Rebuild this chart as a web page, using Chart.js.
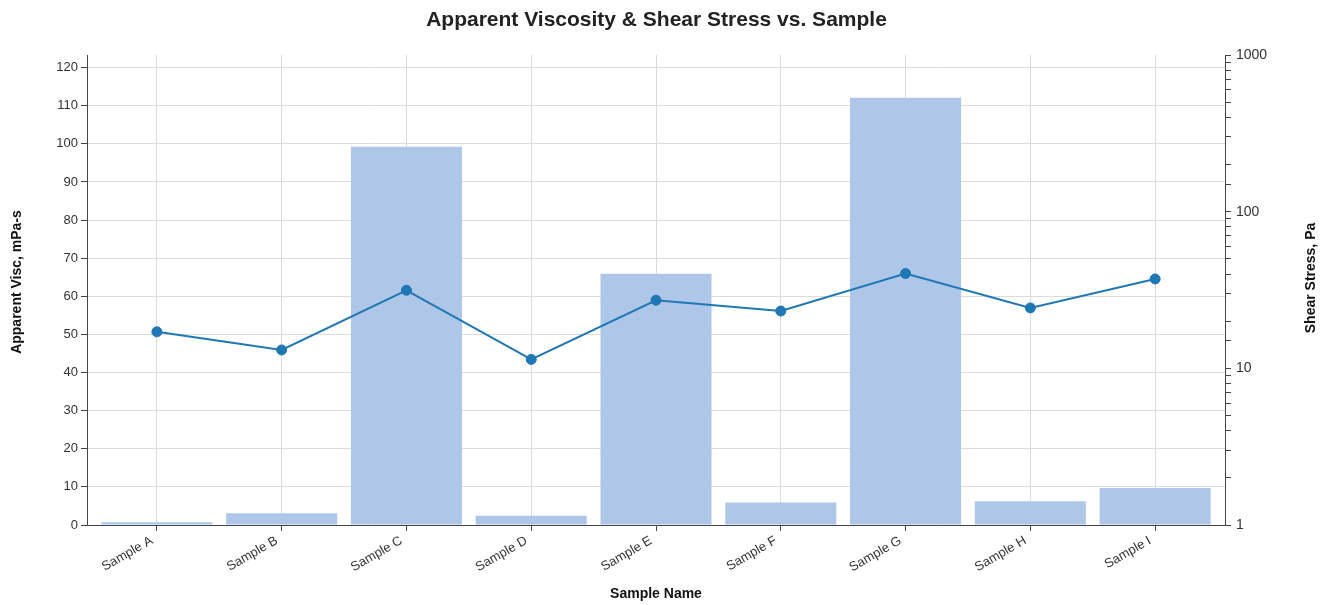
<!DOCTYPE html>
<html>
<head>
<meta charset="utf-8">
<script src="https://cdn.jsdelivr.net/npm/chart.js@4"></script>
<style>
  body { margin: 0; background: #fff; }
</style>
</head>
<body>
<canvas id="myChart" width="1325" height="605"></canvas>
<script>
var ctx = document.getElementById('myChart').getContext('2d');

var samples = ['Sample A', 'Sample B', 'Sample C', 'Sample D', 'Sample E', 'Sample F', 'Sample G', 'Sample H', 'Sample I'];
var apparentVisc = [0.7, 3.1, 99.2, 2.4, 65.9, 5.9, 112.1, 6.2, 9.7];
var shearStress = [17.1, 13.1, 31.5, 11.4, 27.2, 23.2, 40.3, 24.3, 37.2];

var viscTicks = [0, 10, 20, 30, 40, 50, 60, 70, 80, 90, 100, 110, 120];
var stressLabels = [1, 10, 100, 1000];

Chart.defaults.font.family = '"Liberation Sans", Arial, sans-serif';
Chart.defaults.font.size = 13;
Chart.defaults.color = '#333';

var axisColor = '#444';
var gridColor = '#dcdcdc';

// side titles drawn by hand so both read bottom-to-top
var sideTitles = {
    id: 'sideTitles',
    afterDraw: function (chart) {
        var c = chart.ctx;
        c.save();
        c.font = 'bold 14px "Liberation Sans", Arial, sans-serif';
        c.fillStyle = '#111';
        c.textAlign = 'center';
        c.textBaseline = 'middle';
        [[17, 282, 'Apparent Visc, mPa-s'], [1311, 278, 'Shear Stress, Pa']].forEach(function (t) {
            c.save();
            c.translate(t[0], t[1]);
            c.rotate(-Math.PI / 2);
            c.fillText(t[2], 0, 0);
            c.restore();
        });
        c.restore();
    }
};

var myChart = new Chart(ctx, {
    type: 'bar',
    data: {
        labels: samples,
        datasets: [{
            type: 'line',
            label: 'Shear Stress',
            data: shearStress,
            yAxisID: 'y1',
            borderColor: '#1f77b4',
            backgroundColor: '#1f77b4',
            borderWidth: 2,
            pointRadius: 5,
            pointBorderWidth: 1,
            tension: 0,
            order: 0
        }, {
            label: 'Apparent Visc',
            data: apparentVisc,
            yAxisID: 'y',
            backgroundColor: '#aec7e8',
            borderWidth: 0,
            categoryPercentage: 1,
            barPercentage: 0.89,
            order: 1
        }]
    },
    options: {
        responsive: false,
        animation: false,
        devicePixelRatio: 1,
        layout: { padding: { right: 12 } },
        plugins: {
            legend: { display: false },
            tooltip: { enabled: false },
            title: {
                display: true,
                text: 'Apparent Viscosity & Shear Stress vs. Sample',
                color: '#222',
                font: { size: 21, weight: 'bold' },
                padding: { top: 7.5, bottom: 22.3 }
            }
        },
        scales: {
            x: {
                offset: true,
                grid: { color: gridColor, offset: false, tickColor: axisColor, tickLength: 6 },
                border: { color: axisColor },
                ticks: { minRotation: 30, maxRotation: 30, padding: 2, labelOffset: -5, color: '#333' },
                title: {
                    display: true,
                    text: 'Sample Name',
                    color: '#111',
                    font: { size: 14, weight: 'bold' },
                    padding: 2
                },
                afterBuildTicks: function (scale) {
                    // small outer padding like a band scale
                    scale._startValue = -0.56;
                    scale._valueRange = samples.length + 0.12;
                },
                afterFit: function (scale) { scale.height = 80; }
            },
            y: {
                position: 'left',
                min: 0,
                max: 123.3,
                ticks: { stepSize: 10, includeBounds: false, padding: 3, color: '#333' },
                afterBuildTicks: function (scale) {
                    scale.ticks = viscTicks.map(function (v) { return { value: v }; });
                },
                grid: { color: gridColor, tickColor: axisColor, tickLength: 6 },
                border: { color: axisColor },
                afterFit: function (scale) { scale.width = 87; }
            },
            y1: {
                type: 'logarithmic',
                position: 'right',
                min: 1,
                max: 1000,
                ticks: {
                    autoSkip: false,
                    padding: 5,
                    color: '#333',
                    font: { size: 14 },
                    callback: function (value) {
                        return stressLabels.indexOf(value) >= 0 ? String(value) : '';
                    }
                },
                grid: { drawOnChartArea: false, tickColor: axisColor, tickLength: 6 },
                border: { color: axisColor },
                afterFit: function (scale) { scale.width = 88; }
            }
        }
    },
    plugins: [sideTitles]
});
</script>
</body>
</html>
